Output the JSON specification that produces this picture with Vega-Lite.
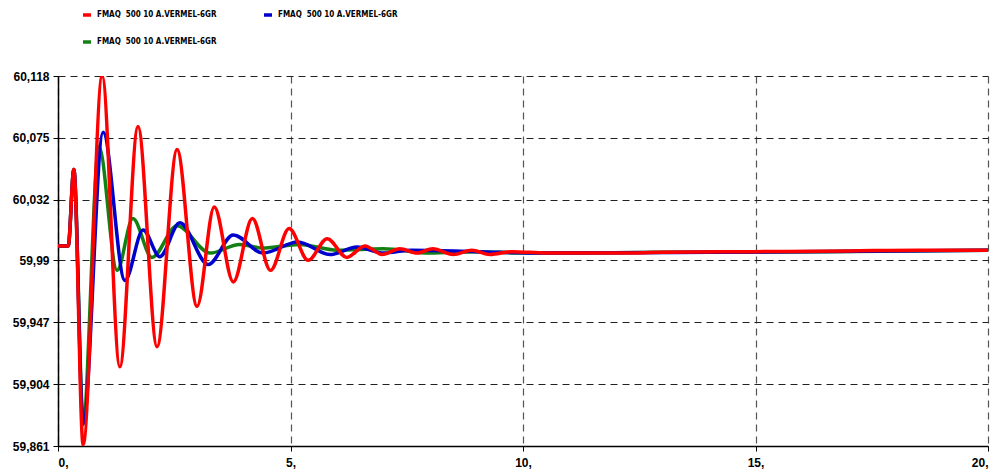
{
  "$schema": "https://vega.github.io/schema/vega-lite/v6.json",
  "width": 930,
  "height": 370,
  "autosize": {"type": "none"},
  "padding": {"left": 58, "top": 76, "right": 12, "bottom": 29},
  "background": "white",
  "config": {"view": {"stroke": null}},
  "data": {"values": [
    {"s": "C", "t": 0, "v": 60.0}, {"s": "C", "t": 0.22, "v": 60.0}, {"s": "C", "t": 0.34, "v": 60.053}, {"s": "C", "t": 0.54, "v": 59.881}, {"s": "C", "t": 0.88, "v": 60.069}, {"s": "C", "t": 1.27, "v": 59.983}, {"s": "C", "t": 1.61, "v": 60.019}, {"s": "C", "t": 2.02, "v": 59.992}, {"s": "C", "t": 2.56, "v": 60.014}, {"s": "C", "t": 3.27, "v": 59.995}, {"s": "C", "t": 3.91, "v": 60.001}, {"s": "C", "t": 4.4, "v": 59.9985}, {"s": "C", "t": 5.2, "v": 60.001}, {"s": "C", "t": 6.0, "v": 59.997}, {"s": "C", "t": 7.0, "v": 59.998}, {"s": "C", "t": 8.0, "v": 59.995}, {"s": "C", "t": 9.0, "v": 59.996}, {"s": "C", "t": 10.0, "v": 59.995}, {"s": "C", "t": 13.0, "v": 59.9955}, {"s": "C", "t": 16.5, "v": 59.996}, {"s": "C", "t": 20.0, "v": 59.997},
    {"s": "B", "t": 0, "v": 60.0}, {"s": "B", "t": 0.22, "v": 60.0}, {"s": "B", "t": 0.34, "v": 60.053}, {"s": "B", "t": 0.54, "v": 59.876}, {"s": "B", "t": 0.97, "v": 60.079}, {"s": "B", "t": 1.44, "v": 59.976}, {"s": "B", "t": 1.83, "v": 60.011}, {"s": "B", "t": 2.19, "v": 59.9925}, {"s": "B", "t": 2.62, "v": 60.016}, {"s": "B", "t": 3.23, "v": 59.987}, {"s": "B", "t": 3.77, "v": 60.0076}, {"s": "B", "t": 4.41, "v": 59.995}, {"s": "B", "t": 5.16, "v": 60.0027}, {"s": "B", "t": 5.85, "v": 59.994}, {"s": "B", "t": 6.43, "v": 59.9992}, {"s": "B", "t": 7.0, "v": 59.995}, {"s": "B", "t": 7.6, "v": 59.997}, {"s": "B", "t": 9.0, "v": 59.996}, {"s": "B", "t": 10.5, "v": 59.995}, {"s": "B", "t": 14.0, "v": 59.9955}, {"s": "B", "t": 20.0, "v": 59.997},
    {"s": "A", "t": 0, "v": 60.0}, {"s": "A", "t": 0.22, "v": 60.0}, {"s": "A", "t": 0.34, "v": 60.053}, {"s": "A", "t": 0.54, "v": 59.862}, {"s": "A", "t": 0.95, "v": 60.118}, {"s": "A", "t": 1.33, "v": 59.916}, {"s": "A", "t": 1.72, "v": 60.083}, {"s": "A", "t": 2.13, "v": 59.93}, {"s": "A", "t": 2.56, "v": 60.067}, {"s": "A", "t": 2.99, "v": 59.958}, {"s": "A", "t": 3.36, "v": 60.027}, {"s": "A", "t": 3.77, "v": 59.975}, {"s": "A", "t": 4.18, "v": 60.019}, {"s": "A", "t": 4.57, "v": 59.983}, {"s": "A", "t": 4.97, "v": 60.012}, {"s": "A", "t": 5.38, "v": 59.99}, {"s": "A", "t": 5.79, "v": 60.005}, {"s": "A", "t": 6.21, "v": 59.992}, {"s": "A", "t": 6.6, "v": 60.0}, {"s": "A", "t": 6.97, "v": 59.994}, {"s": "A", "t": 7.35, "v": 59.998}, {"s": "A", "t": 7.72, "v": 59.995}, {"s": "A", "t": 8.06, "v": 59.998}, {"s": "A", "t": 8.5, "v": 59.994}, {"s": "A", "t": 8.9, "v": 59.997}, {"s": "A", "t": 9.29, "v": 59.994}, {"s": "A", "t": 9.76, "v": 59.996}, {"s": "A", "t": 10.5, "v": 59.995}, {"s": "A", "t": 12.0, "v": 59.995}, {"s": "A", "t": 13.0, "v": 59.9955}, {"s": "A", "t": 15.0, "v": 59.996}, {"s": "A", "t": 17.0, "v": 59.9965}, {"s": "A", "t": 18.5, "v": 59.997}, {"s": "A", "t": 20.0, "v": 59.997}
  ]},
  "mark": {"type": "line", "interpolate": "monotone", "strokeWidth": 3.5, "clip": true},
  "encoding": {
    "x": {
      "field": "t", "type": "quantitative",
      "scale": {"domain": [0, 20], "nice": false, "zero": false},
      "axis": {
        "title": null, "values": [0, 5, 10, 15, 20],
        "labelExpr": "datum.value + ','",
        "labelFont": "Liberation Sans", "labelFontWeight": "bold", "labelFontSize": 12, "labelColor": "black",
        "labelPadding": 6,
        "domainColor": "black", "domainWidth": 1.5, "tickColor": "black", "tickSize": 5,
        "grid": true, "gridColor": "#555555", "gridDash": [7, 5], "gridWidth": 1.2
      }
    },
    "y": {
      "field": "v", "type": "quantitative",
      "scale": {"domain": [59.861, 60.118], "nice": false, "zero": false},
      "axis": {
        "title": null, "values": [59.861, 59.904, 59.947, 59.99, 60.032, 60.075, 60.118],
        "labelExpr": "replace(format(datum.value, '.3~f'), '.', ',')",
        "labelFont": "Liberation Sans", "labelFontWeight": "bold", "labelFontSize": 12, "labelColor": "black",
        "labelPadding": 4,
        "domainColor": "black", "domainWidth": 1.5, "tickColor": "black", "tickSize": 5,
        "grid": true, "gridColor": "#222222", "gridDash": [7, 5], "gridWidth": 1.2
      }
    },
    "color": {
      "field": "s", "type": "nominal",
      "scale": {"domain": ["A", "B", "C"], "range": ["#ff0000", "#0000cc", "#138013"]},
      "legend": {
        "orient": "none", "legendX": 23, "legendY": -67, "direction": "horizontal", "columns": 2,
        "title": null,
        "labelExpr": "'FMAQ\u00a0 500 10 A.VERMEL-6GR'",
        "labelFont": "DejaVu Sans Condensed, Liberation Sans", "labelFontWeight": "bold", "labelFontSize": 8, "labelColor": "black",
        "symbolType": "stroke", "symbolSize": 64, "symbolStrokeWidth": 3.5,
        "columnPadding": 40, "rowPadding": 13, "labelOffset": 4
      }
    }
  }
}
